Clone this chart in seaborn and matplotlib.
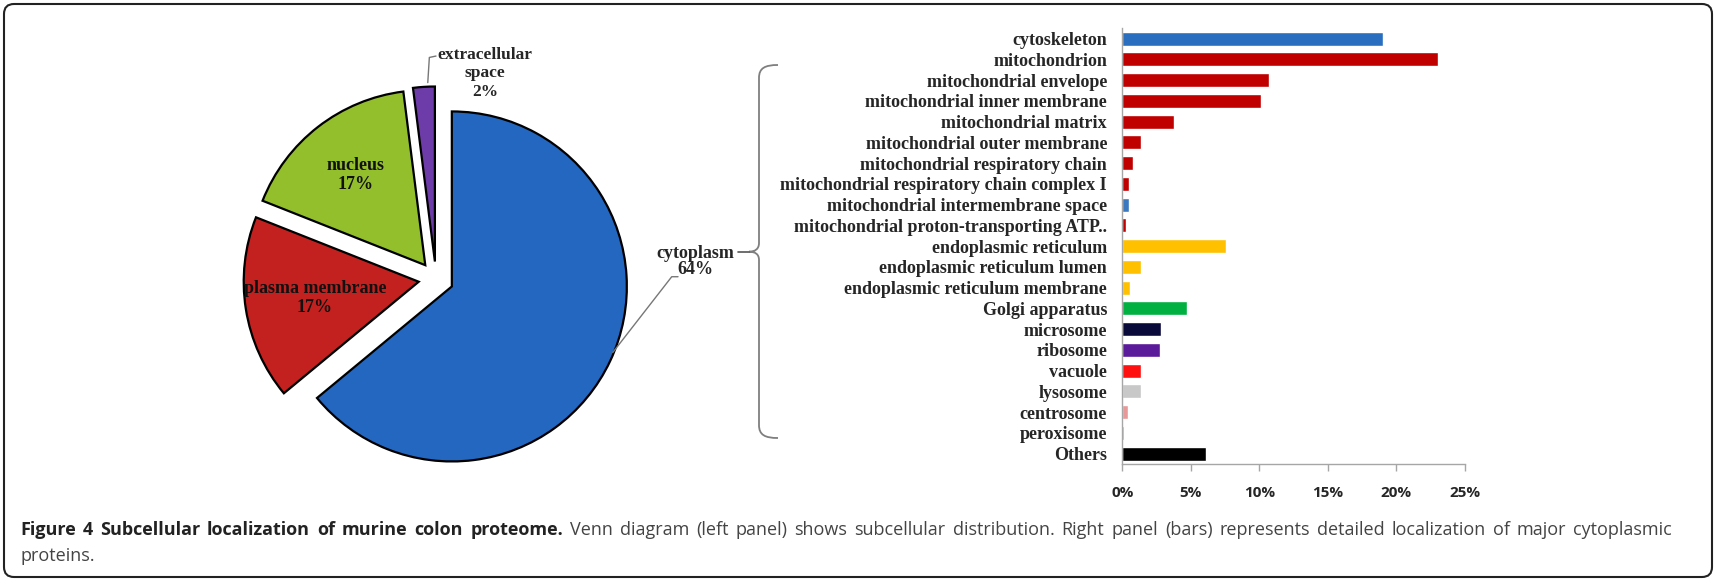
import numpy as np
import matplotlib
matplotlib.use("Agg")
import matplotlib.pyplot as plt
import seaborn as sns
from matplotlib.patches import FancyBboxPatch, PathPatch
from matplotlib.path import Path

# Pie data (left panel)
pie_labels = ['cytoplasm', 'plasma membrane', 'nucleus', 'extracellular\nspace']
pie_values = [64, 17, 17, 2]
pie_colors = ['#2367C1', '#C3211F', '#93BF2D', '#6E3CA8']

# Bar data (right panel), percent of cytoplasmic proteins
bar_labels = ['cytoskeleton', 'mitochondrion', 'mitochondrial envelope', 'mitochondrial inner membrane',
              'mitochondrial matrix', 'mitochondrial outer membrane', 'mitochondrial respiratory chain',
              'mitochondrial respiratory chain complex I', 'mitochondrial intermembrane space',
              'mitochondrial proton-transporting ATP..', 'endoplasmic reticulum', 'endoplasmic reticulum lumen',
              'endoplasmic reticulum membrane', 'Golgi apparatus', 'microsome', 'ribosome', 'vacuole',
              'lysosome', 'centrosome', 'peroxisome', 'Others']
bar_values = [19.0, 23.0, 10.7, 10.1, 3.8, 1.35, 0.8, 0.5, 0.5, 0.3, 7.55, 1.35, 0.55, 4.7, 2.8, 2.75,
              1.4, 1.35, 0.45, 0.15, 6.1]
bar_colors = ['#2A6EC0', '#C00000', '#C00000', '#C00000', '#C00000', '#C00000', '#C00000', '#C00000',
              '#3A78C0', '#C00000', '#FFC000', '#FFC000', '#FFC000', '#00B040', '#0A0A3A', '#5A1A9A',
              '#FF1010', '#C8C8C8', '#E89898', '#E0A040', '#000000']
x_ticks = [0, 5, 10, 15, 20, 25]

caption_bold = 'Figure 4 Subcellular localization of murine colon proteome.'
caption_rest = ('Venn diagram (left panel) shows subcellular distribution. Right panel (bars) represents '
                'detailed localization of major cytoplasmic')
caption_line2 = 'proteins.'

sns.set_style('white')
plt.rcParams['font.family'] = ['Liberation Serif', 'DejaVu Serif']

W, H = 1716, 581
fig = plt.figure(figsize=(W / 100, H / 100), dpi=100)

# ---- pie ----
ax_pie = fig.add_axes([208.5 / W, 74.5 / H, 455 / W, 455 / H])
wedges, _ = ax_pie.pie(pie_values, colors=pie_colors, startangle=90, counterclock=False,
                       explode=[0.1] * 4, radius=1.0,
                       wedgeprops=dict(edgecolor='black', linewidth=1.6))
ax_pie.set_xlim(-1.3, 1.3)
ax_pie.set_ylim(-1.3, 1.3)
ax_pie.set_aspect('auto')
ax_pie.axis('off')

# inner labels for plasma membrane and nucleus
for w, lab, val, d in [(wedges[1], 'plasma membrane', pie_values[1], 0.6),
                       (wedges[2], 'nucleus', pie_values[2], 0.65)]:
    ang = np.deg2rad((w.theta1 + w.theta2) / 2)
    r = d + 0.1
    ax_pie.text(r * np.cos(ang), r * np.sin(ang), f'{lab}\n{val}%', ha='center', va='center',
                fontsize=13, fontweight='bold', linespacing=1.15, color='#111111')

ax_pie.text(0.28, 1.175, f'{pie_labels[3]}\n{pie_values[3]}%', ha='center', va='center',
            fontsize=12.5, fontweight='bold', linespacing=1.2, clip_on=False)
ax_pie.plot([-0.047, -0.038, 0.0], [1.122, 1.266, 1.274], color='#777777', lw=1, clip_on=False)

ax_pie.text(1.48, 0.10, f'{pie_labels[0]}\n{pie_values[0]}%', ha='center', va='center',
            fontsize=13, fontweight='bold', linespacing=1.0, clip_on=False)
ax_pie.plot([1.01, 1.347, 1.383], [-0.42, 0.013, 0.013], color='#777777', lw=1, clip_on=False)

# ---- bars ----
ax_bar = fig.add_axes([1122.3 / W, (H - 464) / H, 342.7 / W, (464 - 28.3) / H])
sns.barplot(x=bar_values, y=bar_labels, hue=bar_labels, palette=bar_colors, legend=False,
            width=0.67, saturation=1, orient='h', ax=ax_bar)
ax_bar.set_xlim(0, 25)
ax_bar.set_ylim(len(bar_labels) - 0.5, -0.5)
ax_bar.set_xticks(x_ticks)
ax_bar.set_xticklabels([f'{t}%' for t in x_ticks], family='Open Sans', fontweight='bold', fontsize=11)
ax_bar.set_yticks(range(len(bar_labels)))
ax_bar.set_yticklabels(bar_labels, fontweight='bold', fontsize=13)
ax_bar.set_xlabel('')
ax_bar.set_ylabel('')
for s in ['top', 'right']:
    ax_bar.spines[s].set_visible(False)
for s in ['left', 'bottom']:
    ax_bar.spines[s].set_color('#A6A6A6')
    ax_bar.spines[s].set_linewidth(1.0)
ax_bar.tick_params(axis='x', direction='out', length=5, width=1, color='#A6A6A6', pad=11, bottom=True)
ax_bar.tick_params(axis='y', length=0, pad=11)
ax_bar.grid(False)

# ---- overlay: brace, frame, caption ----
ov = fig.add_axes([0, 0, 1, 1], zorder=-1)
ov.set_xlim(0, W)
ov.set_ylim(H, 0)
ov.axis('off')

verts = [(778, 65), (765, 65), (759, 68), (759, 78),
         (759, 243),
         (759, 249), (755, 251.7), (749, 251.7),
         (755, 251.7), (759, 254), (759, 260),
         (759, 425),
         (759, 435), (765, 438), (778, 438)]
codes = [Path.MOVETO, Path.CURVE4, Path.CURVE4, Path.CURVE4,
         Path.LINETO,
         Path.CURVE4, Path.CURVE4, Path.CURVE4,
         Path.CURVE4, Path.CURVE4, Path.CURVE4,
         Path.LINETO,
         Path.CURVE4, Path.CURVE4, Path.CURVE4]
ov.add_patch(PathPatch(Path(verts, codes), fill=False, edgecolor='#7F7F7F', lw=1.3))
ov.plot([738, 749], [251.7, 251.7], color='#555555', lw=1.2)

ov.add_patch(FancyBboxPatch((4, 4), W - 8, H - 8, boxstyle='round,pad=0,rounding_size=10',
                            fill=False, edgecolor='#222222', lw=1.5))

# caption, first line justified between x0 and x1
cap_size = 13
x0, x1, y1, y2 = 20, 1672, 530, 556
words = caption_bold.split() + caption_rest.split()
n_bold = len(caption_bold.split())
fig.canvas.draw()
renderer = fig.canvas.get_renderer()
word_texts = []
for i, wd in enumerate(words):
    bold = i < n_bold
    t = ov.text(0, y1, wd, family='Open Sans', fontweight='bold' if bold else 'normal',
                fontsize=cap_size, ha='left', va='center', color='#222222' if bold else '#444444')
    word_texts.append(t)
widths = [t.get_window_extent(renderer).width for t in word_texts]
gap = (x1 - x0 - sum(widths)) / (len(words) - 1)
x = x0
for t, wdt in zip(word_texts, widths):
    t.set_x(x)
    x += wdt + gap
ov.text(x0, y2, caption_line2, family='Open Sans', fontsize=cap_size, ha='left', va='center',
        color='#444444')

fig.savefig('out.png', dpi=100)
